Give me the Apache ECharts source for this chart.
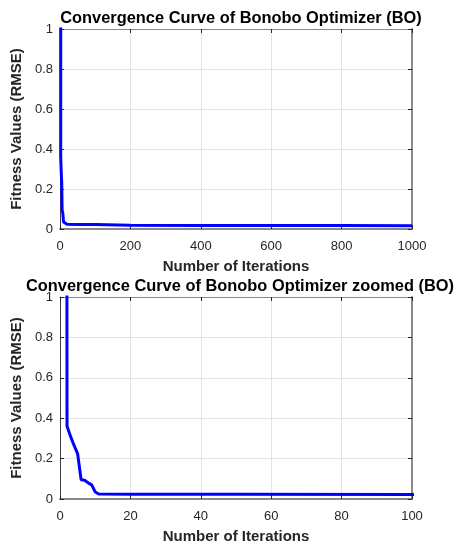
<!DOCTYPE html>
<html>
<head>
<meta charset="utf-8">
<script src="https://cdn.jsdelivr.net/npm/echarts@6/dist/echarts.min.js"></script>
<style>html,body{margin:0;padding:0;background:#fff}#c{width:454px;height:542px}</style>
</head>
<body>
<div id="c"></div>
<script>
var iterations = [1, 2, 3, 4, 5, 6, 7, 8, 9, 10, 11, 20, 50, 100, 200, 400, 600, 800, 1000];
var fitness = [20, 0.36, 0.31, 0.265, 0.225, 0.095, 0.093, 0.08, 0.07, 0.035, 0.025, 0.024, 0.023, 0.022, 0.019, 0.018, 0.017, 0.017, 0.016];
var titles = ['Convergence Curve of Bonobo Optimizer (BO)', 'Convergence Curve of Bonobo Optimizer zoomed (BO)'];
var xMaxes = [1000, 100];
var xIntervals = [200, 20];
var yTicks = [0, 0.2, 0.4, 0.6, 0.8, 1];
var xLabel = 'Number of Iterations';
var yLabel = 'Fitness Values (RMSE)';

var pts = iterations.map(function (x, i) { return [x, fitness[i]]; });
var font = 'Arial, "Liberation Sans", Helvetica, sans-serif';
var txt = '#262626';
var grids = [
  {left: 60, top: 29, width: 352, height: 200, containLabel: false, outerBoundsMode: 'none'},
  {left: 60, top: 297, width: 352, height: 202, containLabel: false, outerBoundsMode: 'none'}
];
var xAxes = [], yAxes = [], series = [], titleArr = [];
grids.forEach(function (g, k) {
  xAxes.push({
    type: 'value', gridIndex: k, min: 0, max: xMaxes[k], interval: xIntervals[k],
    name: xLabel, nameLocation: 'middle', nameGap: 30,
    nameTextStyle: {fontFamily: font, fontWeight: 'bold', fontSize: 15, color: txt},
    axisLine: {show: true, onZero: false, lineStyle: {color: '#8a8a8a', width: 2}},
    axisTick: {show: true, inside: true, length: 4, lineStyle: {color: txt}},
    axisLabel: {fontFamily: font, fontSize: 13, color: txt, margin: 11,
      formatter: function (v) { return String(v); }},
    splitLine: {show: true, lineStyle: {color: '#e3e3e3', width: 1}}
  });
  xAxes.push({
    type: 'value', gridIndex: k, min: 0, max: xMaxes[k], interval: xIntervals[k], position: 'top',
    axisLine: {show: true, onZero: false, lineStyle: {color: '#8a8a8a', width: 1}},
    axisTick: {show: true, inside: true, length: 4, lineStyle: {color: txt}},
    axisLabel: {show: false}, splitLine: {show: false}
  });
  yAxes.push({
    type: 'value', gridIndex: k, min: 0, max: 1, interval: 0.2,
    name: yLabel, nameLocation: 'middle', nameGap: 26, nameRotate: 90,
    nameTextStyle: {fontFamily: font, fontWeight: 'bold', fontSize: 15, color: txt},
    axisLine: {show: true, onZero: false, lineStyle: {color: '#404040', width: 1}},
    axisTick: {show: true, inside: true, length: 4, lineStyle: {color: txt}},
    axisLabel: {fontFamily: font, fontSize: 13, color: txt, margin: 7,
      formatter: function (v) { return yTicks.indexOf(Math.round(v * 10) / 10) >= 0 ? String(Math.round(v * 10) / 10) : ''; }},
    splitLine: {show: true, lineStyle: {color: '#e3e3e3', width: 1}}
  });
  yAxes.push({
    type: 'value', gridIndex: k, min: 0, max: 1, interval: 0.2, position: 'right',
    axisLine: {show: true, onZero: false, lineStyle: {color: '#8a8a8a', width: 2}},
    axisTick: {show: true, inside: true, length: 4, lineStyle: {color: txt}},
    axisLabel: {show: false}, splitLine: {show: false}
  });
  series.push({
    type: 'line', xAxisIndex: 2 * k, yAxisIndex: 2 * k, data: pts, showSymbol: false,
    clip: true, lineStyle: {color: '#0000ff', width: 3}, animation: false
  });
  titleArr.push({
    text: titles[k], top: g.top - 24,
    textStyle: {fontFamily: font, fontWeight: 'bold', fontSize: 16.4, color: '#000'}
  });
});
titleArr[0].left = 236; titleArr[0].textAlign = 'center';
titleArr[1].left = 235; titleArr[1].textAlign = 'center';

var chart = echarts.init(document.getElementById('c'));
chart.setOption({
  animation: false,
  title: titleArr,
  grid: grids,
  xAxis: xAxes,
  yAxis: yAxes,
  series: series
});
</script>
</body>
</html>
